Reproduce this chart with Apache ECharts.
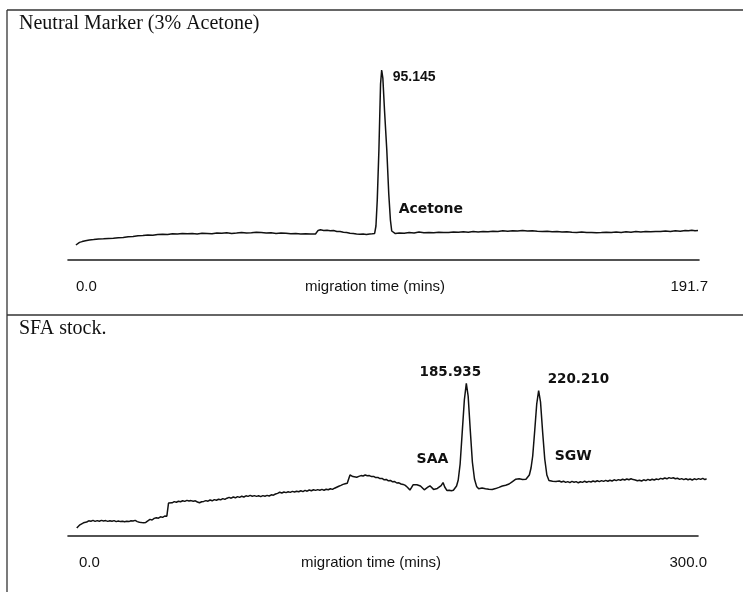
<!DOCTYPE html>
<html>
<head>
<meta charset="utf-8">
<script src="https://cdn.jsdelivr.net/npm/echarts@6/dist/echarts.min.js"></script>
<style>
  html, body { margin: 0; padding: 0; background: #fff; }
  #chart { width: 743px; height: 592px; }
</style>
</head>
<body>
<div id="chart"></div>
<script>
// ---------- DATA ----------
const panelTitles = ['Neutral Marker (3% Acetone)', 'SFA stock.'];
const axisName = 'migration time (mins)';
const neutralTicks = [0.0, 191.7];
const sfaTicks = [0.0, 300.0];

// [migration time (min), detector signal (arb. units)]
const neutralTrace = [
  [2.1,7.5],[2.6,8.3],[3.2,8.8],[4.0,9.2],[5.0,9.6],[6.2,10.0],[7.5,10.2],[9.0,10.5],[10.5,10.6],[12.0,10.8],
  [13.5,10.9],[15.0,11.1],[16.5,11.2],[18.0,11.6],[19.5,11.8],[21.0,12.1],[22.5,12.2],[24.0,12.5],[25.5,12.4],[27.0,12.8],
  [28.5,12.9],[30.0,12.7],[31.5,13.1],[33.0,13.0],[34.5,13.3],[36.0,13.1],[37.5,13.2],[39.0,13.0],[40.5,13.4],[42.0,13.3],
  [43.5,13.1],[45.0,13.5],[46.5,13.4],[48.0,13.6],[49.5,13.3],[51.0,13.5],[52.5,13.8],[54.0,13.5],[55.5,13.6],[57.0,13.9],
  [58.5,13.7],[60.0,13.5],[61.5,13.6],[63.0,13.3],[64.5,13.5],[66.0,13.4],[67.5,13.1],[69.0,13.2],[70.5,13.0],[72.0,13.1],
  [73.5,13.0],[75.0,13.0],[75.5,13.1],[75.8,14.8],[76.5,15.1],[77.5,14.8],[78.5,14.9],[79.5,14.6],[80.5,14.7],[81.5,14.3],
  [82.5,14.2],[83.5,13.9],[84.5,13.7],[85.5,13.4],[86.5,13.2],[87.5,13.0],[88.5,12.9],[89.5,13.0],[90.5,12.8],[91.5,13.0],
  [92.3,13.1],[93.0,13.3],[93.4,17],[93.8,30],[94.3,55],[94.8,88],[95.145,95],[95.5,91],[96.0,75],[96.7,55],
  [97.3,33],[97.8,20],[98.2,14.5],[98.6,13.6],[99.3,13.2],[100.5,13.5],[102.0,13.4],[103.5,13.7],[105.0,13.5],[106.5,14.0],
  [108.0,13.6],[109.5,13.8],[111.0,13.6],[112.5,13.9],[114.0,13.7],[115.5,13.8],[117.0,14.0],[118.5,13.9],[120.0,14.1],[121.5,13.9],
  [123.0,14.2],[124.5,14.0],[126.0,14.3],[127.5,14.1],[129.0,14.4],[130.5,14.3],[132.0,14.6],[133.5,14.4],[135.0,14.6],[136.5,14.5],
  [138.0,14.7],[139.5,14.5],[141.0,14.6],[142.5,14.4],[144.0,14.3],[145.5,14.4],[147.0,14.1],[148.5,14.2],[150.0,14.0],[151.5,14.1],
  [153.0,13.9],[154.5,13.8],[156.0,14.0],[157.5,13.7],[159.0,13.8],[160.5,13.6],[162.0,13.7],[163.5,13.9],[165.0,13.7],[166.5,14.0],
  [168.0,13.8],[169.5,14.1],[171.0,13.9],[172.5,14.2],[174.0,14.0],[175.5,14.3],[177.0,14.1],[178.5,14.3],[180.0,14.2],[181.5,14.5],
  [183.0,14.3],[184.5,14.6],[186.0,14.4],[187.5,14.8],[188.5,14.6],[189.5,14.9],[190.5,14.6],[191.4,14.7]
];

const sfaTrace = [
  [1.3,4.0],[2.0,5.0],[2.8,5.6],[3.6,6.3],[4.5,6.6],[5.2,7.1],[6.0,7.0],[7.0,7.6],[8.0,7.4],[9.0,7.8],
  [10.0,7.3],[11.0,7.7],[12.0,7.4],[13.0,7.8],[14.0,7.5],[15.0,7.7],[16.0,7.3],[17.0,7.6],[18.0,7.4],[19.0,7.7],
  [20.0,7.2],[21.0,7.5],[22.0,7.2],[23.0,7.4],[24.0,7.1],[25.0,7.4],[26.0,7.2],[27.0,7.6],[28.0,7.5],[29.0,7.8],
  [30.0,7.2],[31.0,6.9],[32.0,6.7],[33.0,6.6],[34.0,6.8],[35.0,7.6],[36.0,8.3],[37.0,8.0],[38.0,8.8],[39.0,9.1],
  [40.0,8.9],[41.0,9.6],[42.0,9.3],[43.0,10.0],[44.0,9.9],[44.6,10.2],[44.8,16.5],[45.5,16.9],[46.5,16.6],[47.5,17.2],
  [48.5,16.9],[49.5,17.4],[50.5,17.1],[51.5,17.6],[52.5,17.3],[53.5,17.8],[54.5,17.5],[55.5,17.7],[56.5,17.4],[57.5,17.6],
  [58.5,17.0],[59.5,16.6],[60.5,17.1],[61.5,17.3],[62.5,17.7],[63.5,17.4],[64.5,18.0],[65.5,17.6],[66.5,18.2],[67.5,17.9],
  [68.5,18.4],[69.5,18.1],[70.5,18.7],[71.5,18.3],[72.5,18.9],[73.5,19.3],[74.5,18.9],[75.5,19.5],[76.5,19.1],[77.5,19.7],
  [78.5,19.3],[79.5,19.9],[80.5,19.5],[81.5,20.1],[82.5,19.8],[83.5,20.3],[84.5,19.9],[85.5,20.2],[86.5,19.8],[87.5,20.1],
  [88.5,19.7],[89.5,20.2],[90.5,19.9],[91.5,20.3],[92.5,20.0],[93.5,20.6],[94.5,20.4],[95.5,21.0],[96.5,21.3],[97.5,21.9],
  [98.5,21.5],[99.5,22.0],[100.5,21.7],[101.5,22.1],[102.5,21.8],[103.5,22.3],[104.5,22.0],[105.5,22.4],[106.5,22.1],[107.5,22.6],
  [108.5,22.2],[109.5,22.8],[110.5,22.4],[111.5,23.0],[112.5,22.6],[113.5,23.1],[114.5,22.8],[115.5,23.2],[116.5,22.9],[117.5,23.3],
  [118.5,22.9],[119.5,23.4],[120.5,23.1],[121.5,23.6],[122.5,23.3],[123.5,23.9],[124.5,24.4],[125.5,24.9],[126.5,25.3],[127.5,25.8],
  [128.5,26.1],[129.5,26.4],[130.2,26.6],[130.8,30.5],[131.5,30.9],[132.2,29.7],[133.0,29.9],[134.0,29.4],[135.0,29.8],[136.0,30.2],
  [137.0,30.0],[138.0,30.5],[139.0,30.1],[140.0,30.2],[141.0,29.7],[142.0,29.8],[143.0,29.2],[144.0,29.3],[145.0,28.7],[146.0,28.8],
  [147.0,28.1],[148.0,28.3],[149.0,27.6],[150.0,27.8],[151.0,27.1],[152.0,27.2],[153.0,26.5],[154.0,26.6],[155.0,26.0],[156.0,25.8],
  [157.0,25.3],[158.0,24.4],[159.2,23.0],[160.0,24.3],[160.7,25.6],[161.6,26.4],[162.5,25.6],[163.3,24.6],[164.2,25.0],[165.0,24.0],
  [166.0,23.1],[166.8,23.4],[167.7,24.4],[168.7,25.1],[169.5,24.2],[170.4,23.3],[171.3,23.5],[172.2,23.8],[173.1,24.1],[174.0,25.2],
  [174.9,26.7],[175.7,24.5],[176.8,22.7],[177.8,22.9],[178.8,22.6],[179.8,22.9],[180.6,23.5],[181.3,25.0],[182.1,28.0],[183.0,36.0],
  [184.0,52.0],[185.0,68.0],[185.935,76.35],[186.8,70.0],[187.8,53.0],[188.8,37.0],[189.8,28.5],[190.8,24.8],[191.8,23.6],[192.6,23.1],
  [193.4,24.0],[194.2,23.2],[195.0,23.6],[195.8,22.9],[196.6,23.4],[197.4,23.8],[198.2,23.3],[199.0,24.1],[199.8,23.7],[200.6,24.6],
  [201.4,24.3],[202.2,25.2],[203.0,25.0],[203.8,25.7],[204.6,25.4],[205.4,26.3],[206.2,26.0],[207.0,26.7],[207.8,27.2],[208.6,28.1],
  [209.4,28.4],[210.2,28.9],[211.0,28.6],[211.8,29.1],[212.6,28.3],[213.4,28.0],[214.2,28.4],[215.0,28.9],[215.8,30.5],[216.6,34.0],
  [217.4,40.0],[218.3,52.0],[219.3,66.0],[220.21,72.65],[221.1,67.0],[222.1,52.0],[223.1,38.5],[224.1,30.5],[225.1,27.8],[226.0,27.0],
  [226.8,27.4],[227.6,26.8],[228.4,27.3],[229.2,26.9],[230.0,27.5],[231.0,27.0],[232.0,27.4],[233.0,26.8],[234.0,27.2],[235.0,26.7],
  [236.0,27.3],[237.0,26.9],[238.0,27.2],[239.0,26.6],[240.0,27.1],[241.0,26.8],[242.0,27.4],[243.0,26.9],[244.0,27.3],[245.0,27.0],
  [246.0,27.5],[247.0,27.1],[248.0,27.6],[249.0,27.2],[250.0,27.7],[251.0,27.3],[252.0,27.8],[253.0,27.4],[254.0,27.9],[255.0,27.5],
  [256.0,28.1],[257.0,27.7],[258.0,28.2],[259.0,27.9],[260.0,28.4],[261.0,28.0],[262.0,28.5],[263.0,28.1],[264.0,28.6],[265.0,28.2],
  [266.0,28.0],[267.0,27.6],[268.0,27.9],[269.0,27.5],[270.0,28.1],[271.0,27.7],[272.0,28.3],[273.0,27.9],[274.0,28.4],[275.0,28.0],
  [276.0,28.5],[277.0,28.2],[278.0,28.8],[279.0,28.5],[280.0,29.0],[281.0,28.6],[282.0,29.2],[283.0,28.8],[284.0,29.1],[285.0,28.6],
  [286.0,28.9],[287.0,28.3],[288.0,28.7],[289.0,28.2],[290.0,28.6],[291.0,28.1],[292.0,28.5],[293.0,28.0],[294.0,28.6],[295.0,28.2],
  [296.0,28.7],[297.0,28.3],[298.0,28.8],[299.0,28.2],[299.8,28.6]
];

// peaks: retention times, apex heights, compound names
const neutralPeakTimes = [95.145];
const neutralPeakHeights = [95];
const neutralPeakNames = ['Acetone'];
const sfaPeakTimes = [185.935, 220.210];
const sfaPeakHeights = [76.35, 72.65];
const sfaPeakNames = ['SAA', 'SGW'];

// ---------- CHART ----------
const chart = echarts.init(document.getElementById('chart'), null, { renderer: 'canvas' });
const INK = '#111';
const numFont = { fontFamily: '"DejaVu Sans"', fontWeight: 'bold', fontSize: 13.5, color: INK };
const axisFont = { fontFamily: '"Liberation Sans", Arial, sans-serif', fontSize: 15, color: INK };

function hiddenAxis(extra) {
  return Object.assign({ type: 'value', show: false, splitLine: { show: false } }, extra);
}

function peakMarks(times, heights, names, numStyle, numOffsets, nameOffsets) {
  const data = [];
  times.forEach((t, i) => {
    data.push({
      coord: [t, heights[i]],
      label: Object.assign({ formatter: t.toFixed(3), offset: numOffsets[i].off, align: numOffsets[i].align }, numStyle)
    });
    data.push({
      coord: [t, heights[i]],
      label: Object.assign({ formatter: names[i], offset: nameOffsets[i].off, align: nameOffsets[i].align }, numFont, { fontSize: 14 })
    });
  });
  return {
    symbol: 'circle', symbolSize: 1, silent: true, animation: false,
    itemStyle: { color: 'rgba(0,0,0,0)' },
    label: { show: true, position: 'inside', verticalAlign: 'middle' },
    data: data
  };
}

const option = {
  animation: false,
  backgroundColor: '#fff',
  title: [
    { text: panelTitles[0], left: 19, top: 14, padding: 0,
      textStyle: { fontFamily: '"Liberation Serif", "Times New Roman", serif', fontWeight: 'normal', fontSize: 20, color: INK } },
    { text: panelTitles[1], left: 19, top: 319, padding: 0,
      textStyle: { fontFamily: '"Liberation Serif", "Times New Roman", serif', fontWeight: 'normal', fontSize: 20, color: INK } },
    { text: axisName, left: 375, top: 279, padding: 0, textAlign: 'center',
      textStyle: Object.assign({ fontWeight: 'normal' }, axisFont) },
    { text: axisName, left: 371, top: 555, padding: 0, textAlign: 'center',
      textStyle: Object.assign({ fontWeight: 'normal' }, axisFont) }
  ],
  grid: [
    // top panel: data, rule, labels
    { left: 69, width: 630, top: 60, height: 200 },
    { left: 68, width: 631, top: 250, height: 10 },
    { left: 76, width: 632, top: 250, height: 10 },
    // bottom panel: data, rule, labels
    { left: 74, width: 633, top: 336, height: 200 },
    { left: 68, width: 630, top: 526, height: 10 },
    { left: 79, width: 628, top: 526, height: 10 }
  ],
  xAxis: [
    hiddenAxis({ gridIndex: 0, min: neutralTicks[0], max: neutralTicks[1] }),
    { type: 'value', gridIndex: 1, min: 0, max: 1, axisLine: { show: true, lineStyle: { color: '#1a1a1a', width: 1.6 } },
      axisTick: { show: false }, axisLabel: { show: false }, splitLine: { show: false } },
    { type: 'value', gridIndex: 2, min: neutralTicks[0], max: neutralTicks[1], interval: neutralTicks[1] - neutralTicks[0],
      axisLine: { show: false }, axisTick: { show: false }, splitLine: { show: false },
      axisLabel: Object.assign({ show: true, margin: 27, verticalAlign: 'middle', showMinLabel: true, showMaxLabel: true,
        alignMinLabel: 'left', alignMaxLabel: 'right', formatter: v => v.toFixed(1) }, axisFont) },
    hiddenAxis({ gridIndex: 3, min: sfaTicks[0], max: sfaTicks[1] }),
    { type: 'value', gridIndex: 4, min: 0, max: 1, axisLine: { show: true, lineStyle: { color: '#1a1a1a', width: 1.6 } },
      axisTick: { show: false }, axisLabel: { show: false }, splitLine: { show: false } },
    { type: 'value', gridIndex: 5, min: sfaTicks[0], max: sfaTicks[1], interval: sfaTicks[1] - sfaTicks[0],
      axisLine: { show: false }, axisTick: { show: false }, splitLine: { show: false },
      axisLabel: Object.assign({ show: true, margin: 27, verticalAlign: 'middle', showMinLabel: true, showMaxLabel: true,
        alignMinLabel: 'left', alignMaxLabel: 'right', formatter: v => v.toFixed(1) }, axisFont) }
  ],
  yAxis: [
    hiddenAxis({ gridIndex: 0, min: 0, max: 100 }),
    hiddenAxis({ gridIndex: 1, min: 0, max: 1 }),
    hiddenAxis({ gridIndex: 2, min: 0, max: 1 }),
    hiddenAxis({ gridIndex: 3, min: 0, max: 100 }),
    hiddenAxis({ gridIndex: 4, min: 0, max: 1 }),
    hiddenAxis({ gridIndex: 5, min: 0, max: 1 })
  ],
  series: [
    { type: 'line', xAxisIndex: 0, yAxisIndex: 0, data: neutralTrace, showSymbol: false, smooth: false,
      lineStyle: { color: INK, width: 1.5 }, silent: true,
      markPoint: peakMarks(neutralPeakTimes, neutralPeakHeights, neutralPeakNames,
        { fontFamily: '"Liberation Sans", Arial, sans-serif', fontWeight: 'bold', fontSize: 14, color: INK },
        [{ off: [11, 7], align: 'left' }],
        [{ off: [17, 139], align: 'left' }]) },
    { type: 'line', xAxisIndex: 3, yAxisIndex: 3, data: sfaTrace, showSymbol: false, smooth: false,
      lineStyle: { color: INK, width: 1.5 }, silent: true,
      markPoint: peakMarks(sfaPeakTimes, sfaPeakHeights, sfaPeakNames, numFont,
        [{ off: [-16, -11], align: 'center' }, { off: [9, -11], align: 'left' }],
        [{ off: [-18, 76], align: 'right' }, { off: [16, 66], align: 'left' }]) }
  ],
  graphic: [
    { type: 'line', shape: { x1: 7, y1: 10, x2: 7, y2: 592 }, style: { stroke: '#333', lineWidth: 1.3 }, silent: true },
    { type: 'line', shape: { x1: 7, y1: 10, x2: 743, y2: 10 }, style: { stroke: '#333', lineWidth: 1.3 }, silent: true },
    { type: 'line', shape: { x1: 7, y1: 315, x2: 743, y2: 315 }, style: { stroke: '#333', lineWidth: 1.3 }, silent: true }
  ]
};
chart.setOption(option);
</script>
</body>
</html>
